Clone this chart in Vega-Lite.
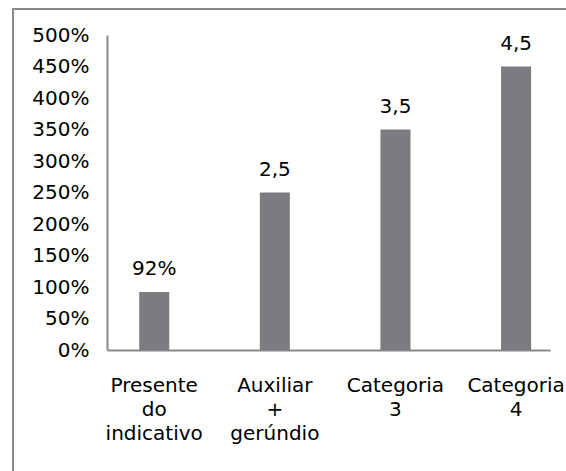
{
  "$schema": "https://vega.github.io/schema/vega-lite/v6.json",
  "autosize": "none",
  "padding": {"left": 13, "top": 9, "right": -2, "bottom": -2},
  "width": 555,
  "height": 464,
  "background": "white",
  "config": {
    "view": {"stroke": "#8a8a8a", "strokeWidth": 2},
    "font": "DejaVu Sans"
  },
  "data": {
    "values": [
      {"categoria": "Presente do indicativo", "valor": 0.92, "rotulo": "92%"},
      {"categoria": "Auxiliar + gerúndio", "valor": 2.5, "rotulo": "2,5"},
      {"categoria": "Categoria 3", "valor": 3.5, "rotulo": "3,5"},
      {"categoria": "Categoria 4", "valor": 4.5, "rotulo": "4,5"}
    ]
  },
  "encoding": {
    "x": {
      "field": "categoria",
      "type": "nominal",
      "sort": null,
      "scale": {"range": [94, 537], "paddingInner": 0.751, "paddingOuter": 0.212, "align": 0.63},
      "axis": {
        "title": null,
        "orient": "bottom",
        "offset": -123,
        "labelAngle": 0,
        "labelExpr": "split(datum.label, ' ')",
        "labelFontSize": 20,
        "labelColor": "#000000",
        "labelBaseline": "top",
        "labelPadding": 25,
        "labelLineHeight": 24,
        "ticks": false,
        "domainColor": "#8a8a8a",
        "domainWidth": 2,
        "grid": false
      }
    },
    "y": {
      "field": "valor",
      "type": "quantitative",
      "scale": {"domain": [0, 5], "range": [341, 26], "nice": false},
      "axis": {
        "title": null,
        "orient": "left",
        "offset": -94,
        "values": [0, 0.5, 1, 1.5, 2, 2.5, 3, 3.5, 4, 4.5, 5],
        "format": ".0%",
        "labelFontSize": 20,
        "labelColor": "#000000",
        "labelPadding": 18,
        "ticks": false,
        "domainColor": "#8a8a8a",
        "domainWidth": 2,
        "grid": false
      }
    }
  },
  "layer": [
    {"mark": {"type": "bar", "color": "#7b7c80"}},
    {
      "mark": {"type": "text", "fontSize": 20, "color": "#000000", "baseline": "alphabetic", "dy": -17},
      "encoding": {"text": {"field": "rotulo"}}
    }
  ]
}
